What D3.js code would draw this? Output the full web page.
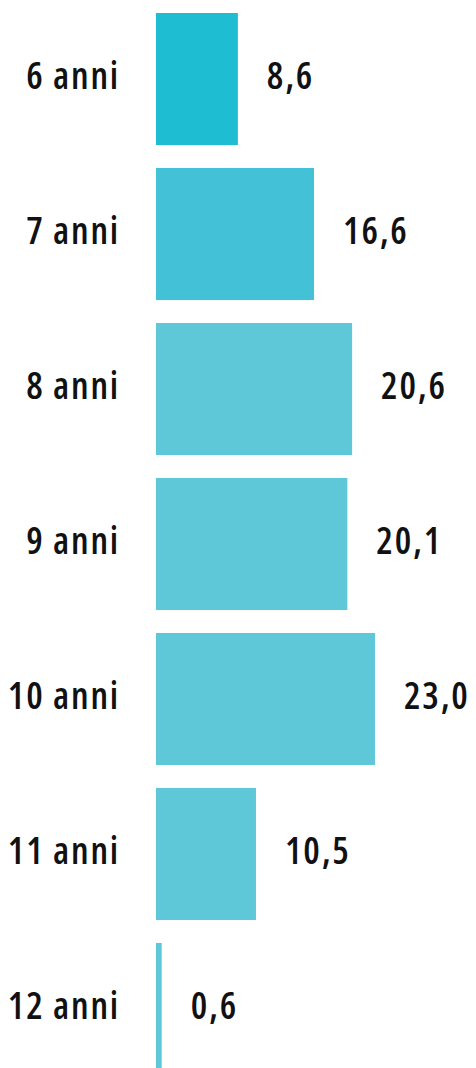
<!DOCTYPE html>
<html>
<head>
<meta charset="utf-8">
<script src="https://cdn.jsdelivr.net/npm/d3@7"></script>
<style>
  html, body { margin: 0; padding: 0; background: #fff; }
  svg { display: block; }
  text { font-family: "Open Sans", sans-serif; font-weight: 600; font-stretch: condensed; letter-spacing: 1.8px; fill: #111; }
</style>
</head>
<body>
<svg width="476" height="1068"></svg>
<script>
const categories = ["6 anni", "7 anni", "8 anni", "9 anni", "10 anni", "11 anni", "12 anni"];
const values = [8.6, 16.6, 20.6, 20.1, 23.0, 10.5, 0.6];
const barColors = ["#1ebdd2", "#43c1d7", "#5ec8d8", "#5ec8d8", "#5ec8d8", "#5ec8d8", "#5ec8d8"];

const svg = d3.select("svg");
const x0 = 156;

const yScale = d3.scaleBand()
  .domain(categories)
  .range([13, 1075])
  .paddingInner(0.148)
  .paddingOuter(0);

const xScale = d3.scaleLinear().domain([0, 25]).range([0, 238]);

const rows = categories.map((c, i) => ({ cat: c, v: values[i], color: barColors[i] }));
const fmt = (v) => d3.format(".1f")(v).replace(".", ",");

const g = svg.append("g");

g.selectAll("rect")
  .data(rows)
  .enter()
  .append("rect")
  .attr("x", x0)
  .attr("y", (d) => yScale(d.cat))
  .attr("width", (d) => xScale(d.v))
  .attr("height", yScale.bandwidth())
  .attr("fill", (d) => d.color);

// category labels on the left
g.selectAll("text.cat")
  .data(rows)
  .enter()
  .append("text")
  .attr("class", "cat")
  .attr("x", 120)
  .attr("y", (d) => yScale(d.cat) + yScale.bandwidth() / 2 + 10)
  .attr("text-anchor", "end")
  .attr("font-size", 37)
  .text((d) => d.cat);

// value labels after the bars
g.selectAll("text.val")
  .data(rows)
  .enter()
  .append("text")
  .attr("class", "val")
  .attr("x", (d) => x0 + xScale(d.v) + 29)
  .attr("y", (d) => yScale(d.cat) + yScale.bandwidth() / 2 + 10)
  .attr("font-size", 37)
  .text((d) => fmt(d.v));
</script>
</body>
</html>
